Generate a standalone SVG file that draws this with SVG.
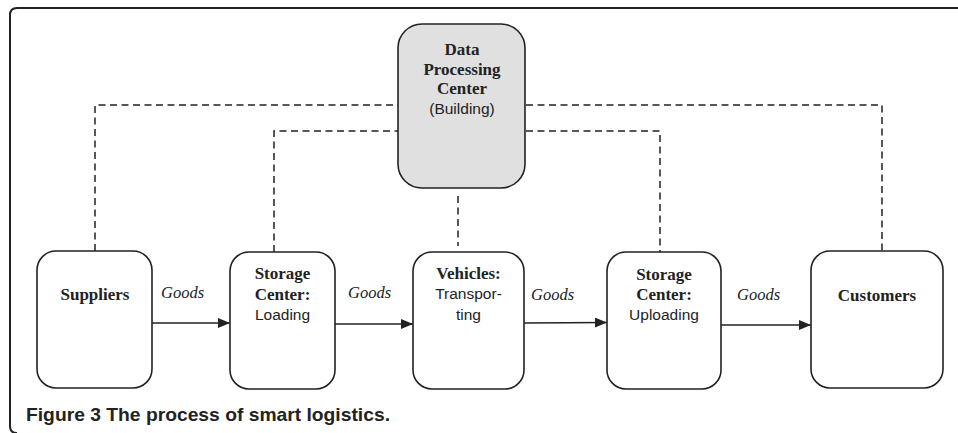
<svg xmlns="http://www.w3.org/2000/svg" width="958" height="433" viewBox="0 0 958 433">
<style>
.box{fill:#fff;stroke:#222;stroke-width:1.6}
.dpc{fill:#e0e0e0;stroke:#222;stroke-width:1.6}
.dash{fill:none;stroke:#222;stroke-width:1.5;stroke-dasharray:7 4.5}
.arrow{fill:none;stroke:#222;stroke-width:1.6;marker-end:url(#ah)}
.b{font-family:"Liberation Serif","Times New Roman",serif;font-weight:bold;font-size:17px;fill:#222;text-anchor:middle}
.s{font-family:"Liberation Sans",Arial,sans-serif;font-size:15.5px;fill:#222;text-anchor:middle}
.g{font-family:"Liberation Serif","Times New Roman",serif;font-style:italic;font-size:16.5px;fill:#222}
.cap{font-family:"Liberation Sans",Arial,sans-serif;font-weight:bold;font-size:19px;fill:#222}
</style>
<defs>
<marker id="ah" viewBox="0 0 12 10" refX="12" refY="5" markerWidth="12" markerHeight="10" markerUnits="userSpaceOnUse" orient="auto">
<path d="M0,0 L12,5 L0,10 Z" fill="#222"/>
</marker>
</defs>
<rect width="958" height="433" fill="#fff"/>
<path d="M958 8 H17 Q10 8 10 15 V426 Q10 433 17 433" fill="none" stroke="#222" stroke-width="2"/>
<g id="connectors">
<path class="dash" d="M95 251 V105 H398"/>
<path class="dash" d="M526 105 H882 V251"/>
<path class="dash" d="M274 252 V131 H398"/>
<path class="dash" d="M526 131 H660 V252"/>
<path class="dash" d="M458 196 V246"/>
<path class="arrow" d="M152 323 H230"/>
<path class="arrow" d="M335 324 H413"/>
<path class="arrow" d="M524 323 L607 322.5"/>
<path class="arrow" d="M721 325 H811"/>
</g>
<g id="dpc">
<rect class="dpc" x="398" y="24" width="127" height="164" rx="24"/>
<text class="b" x="462" y="55">Data</text>
<text class="b" x="462" y="75">Processing</text>
<text class="b" x="462" y="94">Center</text>
<text class="s" x="462" y="114">(Building)</text>
</g>
<g id="suppliers">
<rect class="box" x="37" y="251" width="115" height="137" rx="19"/>
<text class="b" x="95" y="300">Suppliers</text>
</g>
<g id="storage-loading">
<rect class="box" x="230" y="252" width="105" height="137" rx="19"/>
<text class="b" x="282.5" y="279">Storage</text>
<text class="b" x="282.5" y="300">Center:</text>
<text class="s" x="282.5" y="320">Loading</text>
</g>
<g id="vehicles">
<rect class="box" x="413" y="252" width="111" height="137" rx="19"/>
<text class="b" x="468.5" y="279">Vehicles:</text>
<text class="s" x="468.5" y="299">Transpor-</text>
<text class="s" x="468.5" y="320">ting</text>
</g>
<g id="storage-uploading">
<rect class="box" x="607" y="252" width="114" height="137" rx="19"/>
<text class="b" x="664" y="280">Storage</text>
<text class="b" x="664" y="300">Center:</text>
<text class="s" x="664" y="320">Uploading</text>
</g>
<g id="customers">
<rect class="box" x="811" y="251" width="132" height="137" rx="19"/>
<text class="b" x="877" y="301">Customers</text>
</g>
<g id="labels">
<text class="g" x="161" y="298">Goods</text>
<text class="g" x="348" y="298">Goods</text>
<text class="g" x="531" y="300">Goods</text>
<text class="g" x="737" y="300">Goods</text>
</g>
<text class="cap" x="26" y="421" textLength="364" lengthAdjust="spacingAndGlyphs">Figure 3 The process of smart logistics.</text>
</svg>
